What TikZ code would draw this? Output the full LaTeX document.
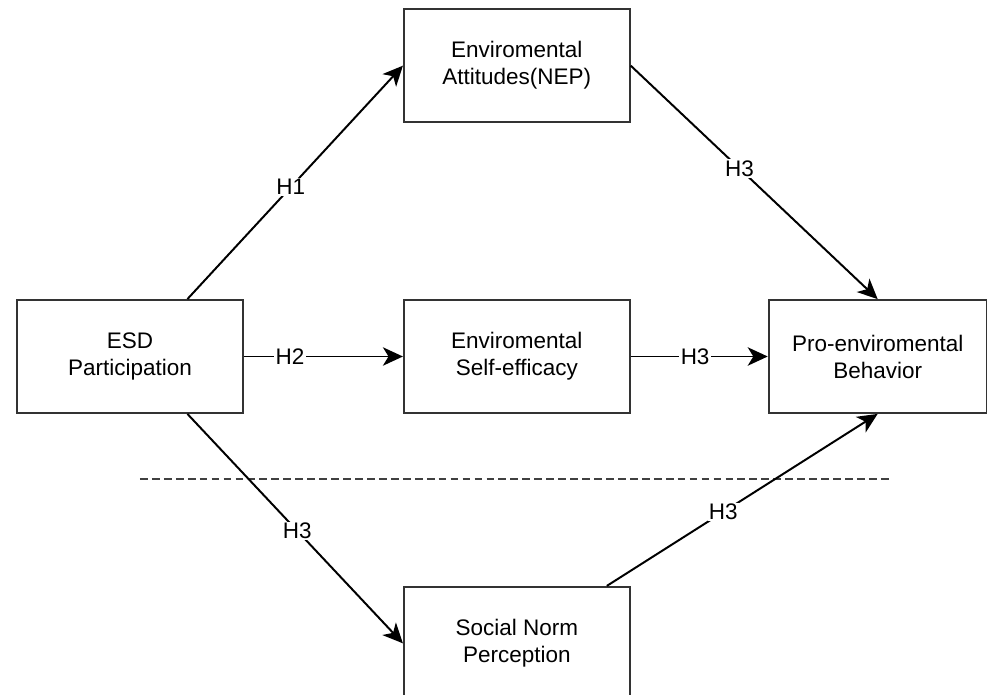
\documentclass[tikz,border=0pt]{standalone}
\usepackage{fontspec}
\setmainfont{Liberation Sans}
\usepackage{xcolor}
\usetikzlibrary{arrows.meta,positioning}

\begin{document}
\begin{tikzpicture}[
    node distance=4.4cm and 3.975cm,
    box/.style={rectangle, draw=black!80, line width=1.3pt, align=center,
                minimum width=5.65cm, minimum height=2.825cm, inner sep=0pt,
                font=\fontsize{16}{19.2}\selectfont},
    arrow/.style={-{Stealth[length=0.5cm, width=0.46cm, inset=0.14cm]}, line width=1.4pt},
    hyp/.style={fill=white, inner sep=1pt, font=\fontsize{16}{19.2}\selectfont},
    divider/.style={draw=black!75, line width=1pt, dash pattern=on 5.5pt off 3pt}
  ]
    \useasboundingbox (-3.25,-8.4625) rectangle (21.425,8.9125);

    \node[box] (esd) at (0,0) {ESD\\Participation};
    \node[box, right=of esd] (sef) {Enviromental\\Self-efficacy};
    \node[box, above=of sef] (nep) {Enviromental\\Attitudes(NEP)};
    \node[box, below=4.3cm of sef] (snp) {Social Norm\\Perception};
    \node[box, right=3.425cm of sef, minimum width=5.45cm] (peb) {Pro-enviromental\\Behavior};

    % separator between direct paths and social norm path
    \draw[divider] (0.25,-3.0625) -- (19.05,-3.0625);

    \draw[arrow] (esd.45) -- node[hyp, pos=0.48]{H1} (nep.west);
    \draw[arrow] (esd) -- node[hyp, pos=0.29]{H2} (sef);
    \draw[arrow] (sef) -- node[hyp, pos=0.47]{H3} (peb);
    \draw[arrow] (nep.east) -- node[hyp, pos=0.44]{H3} (peb.north);
    \draw[arrow] (esd.-45) -- node[hyp, pos=0.51]{H3} (snp.west);
    \draw[arrow] ([xshift=2.25cm]snp.north) -- node[hyp, pos=0.43]{H3} (peb.south);
  \end{tikzpicture}
\end{document}
